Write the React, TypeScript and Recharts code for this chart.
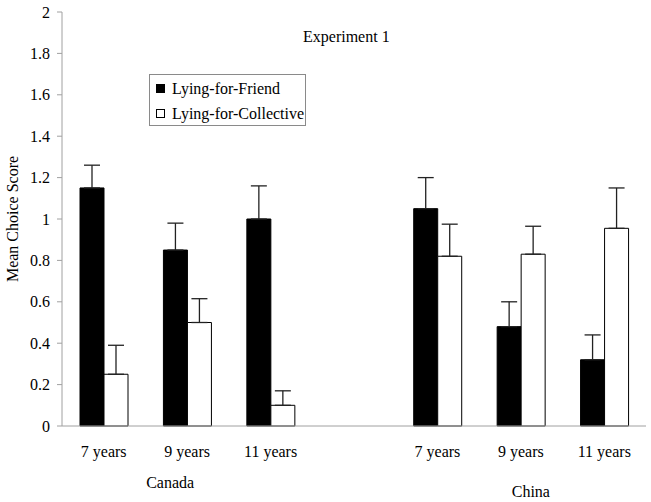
import React from "react";
import { BarChart, Bar, XAxis, YAxis, ErrorBar } from "recharts";

// categories (the empty one is the gap between the two countries)
const ages = ["7 years", "9 years", "11 years", "", "7 years", "9 years", "11 years"];
const countryLabels = ["", "Canada", "", "", "", "China", ""];

// mean choice scores and upper error (SE) per bar
const friend = [1.15, 0.85, 1.0, null, 1.05, 0.48, 0.32];
const friendErr = [0.11, 0.13, 0.16, null, 0.15, 0.12, 0.12];
const collective = [0.25, 0.5, 0.1, null, 0.82, 0.83, 0.955];
const collectiveErr = [0.14, 0.115, 0.07, null, 0.155, 0.135, 0.195];

const yTicks = [0, 0.2, 0.4, 0.6, 0.8, 1, 1.2, 1.4, 1.6, 1.8, 2];

const series = [
  { key: "friend", name: "Lying-for-Friend", fill: "#000000" },
  { key: "collective", name: "Lying-for-Collective", fill: "#ffffff" },
];

const data = ages.map((age, i) => ({
  age,
  country: countryLabels[i],
  friend: friend[i],
  friendErr: friendErr[i] == null ? null : [0, friendErr[i]],
  collective: collective[i],
  collectiveErr: collectiveErr[i] == null ? null : [0, collectiveErr[i]],
}));

const FONT = "Liberation Serif, Tinos, Nimbus Roman, Times, DejaVu Serif, serif";

const countryPos: Record<string, { dx: number; y: number }> = {
  Canada: { dx: -17, y: 488 },
  China: { dx: 10, y: 497 },
};

function AgeTick(props: any) {
  const { x, payload } = props;
  const idx = payload.index;
  const country = countryLabels[idx];
  return (
    <g>
      <text x={x} y={457} textAnchor="middle" fontSize={16} style={{ fontFamily: FONT }} fill="#000">
        {payload.value}
      </text>
      {country ? (
        <text
          x={x + countryPos[country].dx}
          y={countryPos[country].y}
          textAnchor="middle"
          fontSize={16}
          style={{ fontFamily: FONT }}
          fill="#000"
        >
          {country}
        </text>
      ) : null}
    </g>
  );
}

function YLabel(props: any) {
  const { viewBox } = props;
  const cy = viewBox.y + viewBox.height / 2;
  return (
    <text
      transform={`translate(18, ${cy}) rotate(-90)`}
      textAnchor="middle"
      fontSize={16}
      style={{ fontFamily: FONT }}
      fill="#000"
    >
      Mean Choice Score
    </text>
  );
}

export default function App() {
  return (
    <div style={{ position: "absolute", left: 0, top: 0, width: 651, height: 502, background: "#fff", fontFamily: FONT }}>
      <BarChart
        width={651}
        height={502}
        data={data}
        margin={{ top: 12, right: 5, left: 0, bottom: 46 }}
        barGap={0}
        style={{ fontFamily: FONT }}
      >
        <XAxis
          dataKey="age"
          height={30}
          interval={0}
          tickLine={false}
          axisLine={{ stroke: "#a0a0a0" }}
          tick={<AgeTick />}
        />
        <YAxis
          domain={[0, 2]}
          ticks={yTicks}
          interval={0}
          width={62}
          tickSize={5}
          tickMargin={7}
          axisLine={{ stroke: "#a0a0a0" }}
          tickLine={{ stroke: "#a0a0a0" }}
          tick={{ fill: "#000", fontSize: 16, style: { fontFamily: FONT } }}
          label={<YLabel />}
        />
        {series.map((s) => (
          <Bar
            key={s.key}
            dataKey={s.key}
            name={s.name}
            fill={s.fill}
            stroke="#000"
            strokeWidth={1}
            barSize={24}
            isAnimationActive={false}
          >
            <ErrorBar dataKey={s.key + "Err"} width={8} stroke="#222" strokeWidth={1.3} direction="y" />
          </Bar>
        ))}
      </BarChart>
      <div
        style={{
          position: "absolute",
          left: 303,
          top: 28,
          fontFamily: FONT,
          fontSize: 16,
          lineHeight: "normal",
          color: "#000",
          whiteSpace: "nowrap",
        }}
      >
        Experiment 1
      </div>
      <div
        style={{
          position: "absolute",
          left: 149,
          top: 74,
          width: 157,
          height: 52,
          boxSizing: "border-box",
          border: "1px solid #8a8a8a",
          padding: "1px 0 0 6px",
          fontFamily: FONT,
          fontSize: 16,
          color: "#000",
          background: "#fff",
        }}
      >
        {series.map((s) => (
          <div key={s.key} style={{ display: "flex", alignItems: "center", height: 25, whiteSpace: "nowrap" }}>
            <span
              style={{
                display: "inline-block",
                width: 9,
                height: 9,
                boxSizing: "border-box",
                border: "1px solid #000",
                background: s.fill,
                marginRight: 7,
              }}
            />
            {s.name}
          </div>
        ))}
      </div>
    </div>
  );
}
